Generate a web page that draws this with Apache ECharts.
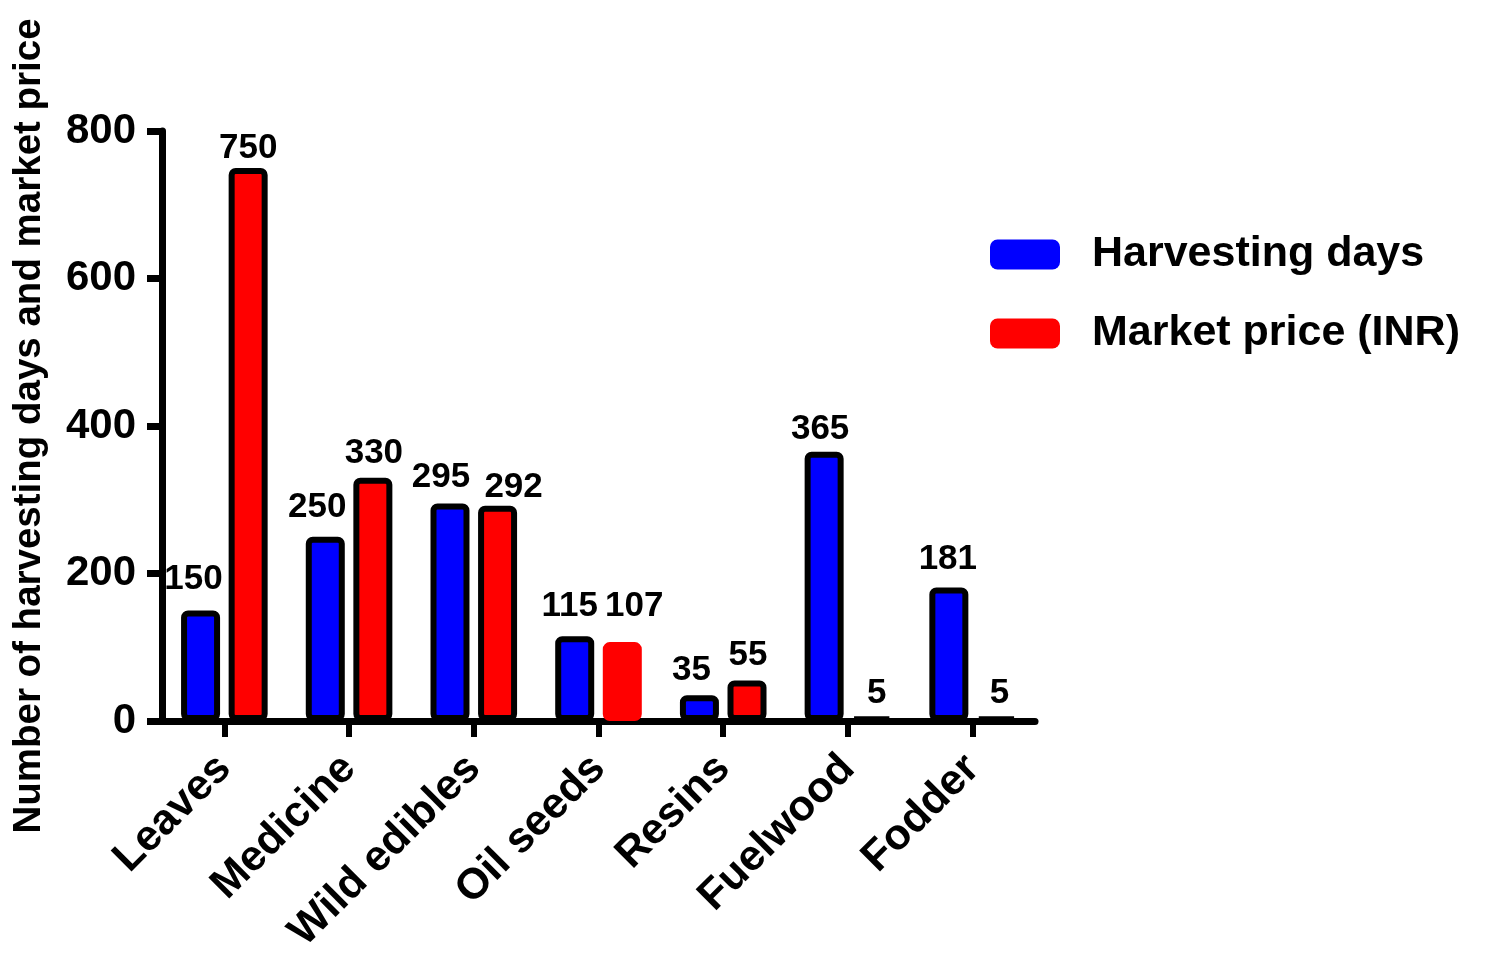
<!DOCTYPE html>
<html>
<head>
<meta charset="utf-8">
<script src="https://cdn.jsdelivr.net/npm/echarts@6/dist/echarts.min.js"></script>
<style>
  html, body { margin: 0; padding: 0; background: #ffffff; }
  #chart { width: 1489px; height: 956px; }
</style>
</head>
<body>
<div id="chart"></div>
<script>
// Forest product categories
const categories = ['Leaves', 'Medicine', 'Wild edibles', 'Oil seeds', 'Resins', 'Fuelwood', 'Fodder'];
// Days per year spent harvesting each product
const harvestingDays = [150, 250, 295, 115, 35, 365, 181];
// Market price of each product (INR)
const marketPrice = [750, 330, 292, 107, 55, 5, 5];
// Value axis ticks
const yMin = 0;
const yMax = 800;
const yStep = 200;

// Hand-placed nudges [dx, dy] for the value labels so neighbours do not collide
const daysLabelNudge = [[-7, -10], [-8, -8], [-9, -5], [-5, -8], [-8, -3], [-4, -1], [-1, -7]];
const priceLabelNudge = [[0, 2], [1, -3], [16, 3], [12, -14], [1, -4], [5, -1], [3, -1]];

const FONT = "'Liberation Sans', Arial, sans-serif";
const BLUE = '#0000ff';
const RED = '#ff0000';

function withNudge(values, nudges, extra) {
  return values.map((v, i) => {
    const item = { value: v, label: { offset: nudges[i] } };
    const more = extra ? extra(i) : null;
    if (more) Object.assign(item, more);
    return item;
  });
}

const daysData = withNudge(harvestingDays, daysLabelNudge);
// Oil seeds price bar is drawn without the black outline
const priceData = withNudge(marketPrice, priceLabelNudge, i =>
  categories[i] === 'Oil seeds' ? { itemStyle: { borderColor: RED } } : null
);

const chart = echarts.init(document.getElementById('chart'));

const barLabel = {
  show: true,
  position: 'top',
  distance: 4,
  color: '#000',
  fontFamily: FONT,
  fontSize: 35,
  fontWeight: 'bold'
};

chart.setOption({
  animation: false,
  backgroundColor: '#ffffff',
  grid: {
    left: 162, right: 454, top: 131, bottom: 235,
    containLabel: false,
    outerBoundsMode: 'none'
  },
  legend: {
    orient: 'vertical',
    left: 990,
    top: 233,
    padding: 0,
    itemWidth: 70,
    itemHeight: 30,
    itemGap: 36,
    icon: 'roundRect',
    itemStyle: { borderWidth: 0 },
    textStyle: {
      color: '#000',
      fontFamily: FONT,
      fontSize: 43,
      fontWeight: 'bold',
      lineHeight: 40,
      padding: [0, 0, 0, 27]
    },
    data: ['Harvesting days', 'Market price (INR)']
  },
  xAxis: {
    type: 'category',
    data: categories,
    axisLine: { show: true, lineStyle: { color: '#000', width: 7 } },
    axisTick: { show: true, alignWithLabel: true, length: 16, lineStyle: { color: '#000', width: 6 } },
    axisLabel: {
      interval: 0,
      rotate: 45,
      margin: 41,
      color: '#000',
      fontFamily: FONT,
      fontSize: 43,
      fontWeight: 'bold'
    },
    splitLine: { show: false }
  },
  yAxis: {
    type: 'value',
    min: yMin,
    max: yMax,
    interval: yStep,
    name: 'Number of harvesting days and market price',
    nameLocation: 'middle',
    nameRotate: 90,
    nameGap: 113,
    nameTextStyle: { color: '#000', fontFamily: FONT, fontSize: 38.5, fontWeight: 'bold' },
    axisLine: { show: true, lineStyle: { color: '#000', width: 7 } },
    axisTick: { show: true, length: 15, lineStyle: { color: '#000', width: 7 } },
    axisLabel: {
      margin: 26,
      color: '#000',
      fontFamily: FONT,
      fontSize: 42,
      fontWeight: 'bold'
    },
    splitLine: { show: false }
  },
  series: [
    {
      name: 'Harvesting days',
      type: 'bar',
      data: daysData,
      barWidth: 39,
      barGap: '22%',
      itemStyle: { color: BLUE, borderColor: '#000', borderWidth: 6, borderRadius: 4 },
      label: barLabel
    },
    {
      name: 'Market price (INR)',
      type: 'bar',
      data: priceData,
      barWidth: 39,
      barGap: '22%',
      itemStyle: { color: RED, borderColor: '#000', borderWidth: 6, borderRadius: 4 },
      label: barLabel
    }
  ]
});
</script>
</body>
</html>
